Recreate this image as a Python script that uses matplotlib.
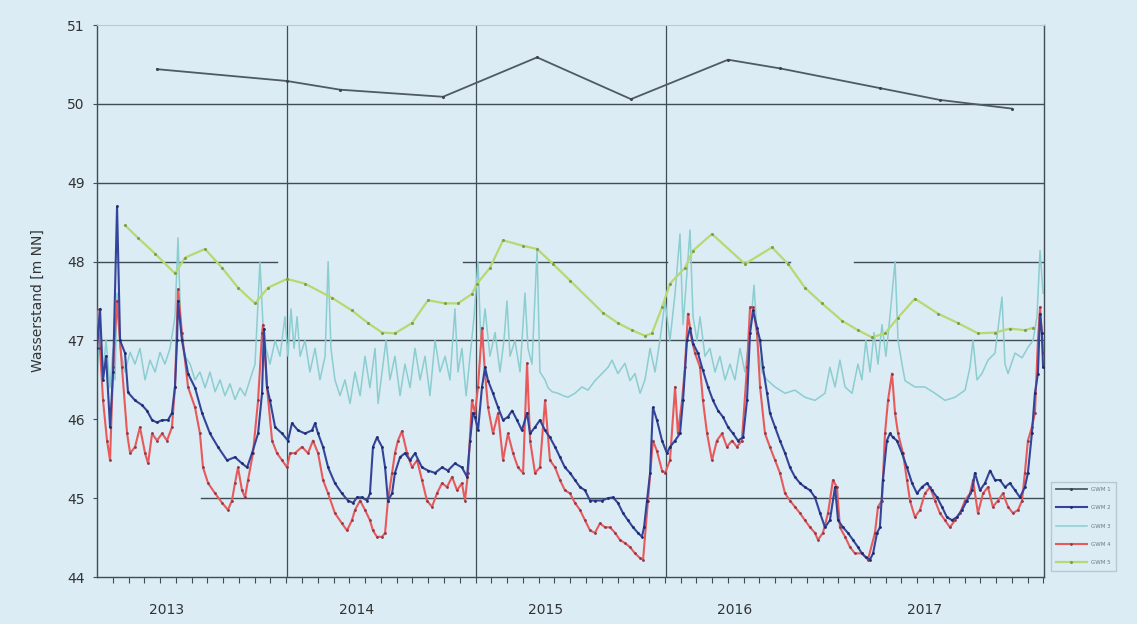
import numpy as np
import matplotlib.pyplot as plt

# groundwater levels [m NN], time as decimal year
gray_pts = [
    (2012.947, 50.44), (2013.634, 50.29), (2013.914, 50.18), (2014.458, 50.09),
    (2014.955, 50.59), (2015.451, 50.06), (2015.964, 50.56), (2016.238, 50.45),
    (2016.766, 50.20), (2017.083, 50.05), (2017.464, 49.94),
]

green_pts = [
    (2012.778, 48.46), (2012.847, 48.30), (2012.937, 48.10), (2013.042, 47.85),
    (2013.095, 48.05), (2013.201, 48.16), (2013.291, 47.92), (2013.375, 47.67),
    (2013.465, 47.47), (2013.534, 47.67), (2013.634, 47.78), (2013.729, 47.72),
    (2013.872, 47.54), (2013.977, 47.38), (2014.062, 47.22), (2014.136, 47.10),
    (2014.204, 47.09), (2014.294, 47.22), (2014.379, 47.51), (2014.469, 47.47),
    (2014.537, 47.47), (2014.611, 47.59), (2014.638, 47.72), (2014.706, 47.92),
    (2014.775, 48.27), (2014.881, 48.20), (2014.955, 48.16), (2015.039, 47.97),
    (2015.129, 47.76), (2015.303, 47.35), (2015.382, 47.22), (2015.456, 47.13),
    (2015.525, 47.06), (2015.562, 47.09), (2015.615, 47.42), (2015.657, 47.72),
    (2015.736, 47.92), (2015.779, 48.14), (2015.879, 48.35), (2016.053, 47.97),
    (2016.196, 48.18), (2016.281, 47.97), (2016.370, 47.67), (2016.460, 47.47),
    (2016.566, 47.25), (2016.650, 47.13), (2016.724, 47.04), (2016.793, 47.09),
    (2016.862, 47.29), (2016.951, 47.53), (2017.073, 47.34), (2017.179, 47.22),
    (2017.284, 47.09), (2017.374, 47.10), (2017.453, 47.15), (2017.532, 47.13),
    (2017.575, 47.16),
]

teal_pts = [
    (2012.630, 46.5), (2012.646, 47.2), (2012.662, 46.6), (2012.678, 47.0), (2012.699, 46.4),
    (2012.715, 46.9), (2012.725, 46.5), (2012.736, 47.6), (2012.752, 46.9), (2012.778, 46.6),
    (2012.805, 46.85), (2012.831, 46.7), (2012.857, 46.9), (2012.884, 46.5), (2012.910, 46.75),
    (2012.937, 46.6), (2012.963, 46.85), (2012.989, 46.7), (2013.016, 46.9), (2013.042, 47.3),
    (2013.058, 48.3), (2013.074, 47.1), (2013.095, 46.8), (2013.122, 46.7), (2013.148, 46.5),
    (2013.174, 46.6), (2013.201, 46.4), (2013.227, 46.6), (2013.254, 46.35), (2013.280, 46.5),
    (2013.306, 46.3), (2013.333, 46.45), (2013.359, 46.25), (2013.386, 46.4), (2013.412, 46.3),
    (2013.438, 46.5), (2013.465, 46.7), (2013.491, 48.0), (2013.507, 47.2), (2013.523, 46.9),
    (2013.544, 46.7), (2013.571, 47.0), (2013.597, 46.8), (2013.623, 47.3), (2013.639, 46.8),
    (2013.655, 47.4), (2013.671, 46.9), (2013.687, 47.3), (2013.703, 46.8), (2013.729, 47.0),
    (2013.755, 46.6), (2013.782, 46.9), (2013.808, 46.5), (2013.835, 46.8), (2013.851, 48.0),
    (2013.866, 46.9), (2013.887, 46.5), (2013.914, 46.3), (2013.940, 46.5), (2013.967, 46.2),
    (2013.993, 46.6), (2014.020, 46.3), (2014.046, 46.8), (2014.072, 46.4), (2014.099, 46.9),
    (2014.115, 46.2), (2014.136, 46.6), (2014.157, 47.0), (2014.178, 46.5), (2014.204, 46.8),
    (2014.231, 46.3), (2014.257, 46.7), (2014.284, 46.4), (2014.310, 46.9), (2014.337, 46.5),
    (2014.363, 46.8), (2014.389, 46.3), (2014.416, 47.0), (2014.442, 46.6), (2014.469, 46.8),
    (2014.495, 46.5), (2014.521, 47.4), (2014.537, 46.6), (2014.558, 46.9), (2014.580, 46.3),
    (2014.601, 46.8), (2014.622, 47.3), (2014.643, 48.0), (2014.659, 46.9), (2014.680, 47.4),
    (2014.706, 46.8), (2014.733, 47.1), (2014.759, 46.6), (2014.780, 47.0), (2014.796, 47.5),
    (2014.812, 46.8), (2014.838, 47.0), (2014.865, 46.6), (2014.891, 47.6), (2014.907, 46.9),
    (2014.928, 46.7), (2014.955, 48.15), (2014.970, 46.6), (2014.997, 46.5), (2015.013, 46.4),
    (2015.034, 46.35), (2015.066, 46.33), (2015.092, 46.3), (2015.118, 46.28), (2015.155, 46.33),
    (2015.192, 46.41), (2015.224, 46.37), (2015.261, 46.49), (2015.298, 46.58), (2015.330, 46.66),
    (2015.351, 46.75), (2015.382, 46.58), (2015.419, 46.71), (2015.446, 46.49), (2015.472, 46.58),
    (2015.499, 46.33), (2015.525, 46.5), (2015.552, 46.9), (2015.578, 46.6), (2015.604, 47.0),
    (2015.631, 47.5), (2015.657, 47.0), (2015.684, 47.6), (2015.710, 48.35), (2015.726, 47.2),
    (2015.742, 47.7), (2015.763, 48.4), (2015.779, 47.3), (2015.800, 47.0), (2015.816, 47.3),
    (2015.842, 46.8), (2015.868, 46.9), (2015.895, 46.6), (2015.921, 46.8), (2015.948, 46.5),
    (2015.974, 46.7), (2016.000, 46.5), (2016.027, 46.9), (2016.053, 46.6), (2016.080, 47.1),
    (2016.101, 47.7), (2016.122, 46.9), (2016.143, 46.6), (2016.170, 46.5), (2016.212, 46.41),
    (2016.265, 46.33), (2016.317, 46.37), (2016.370, 46.28), (2016.423, 46.24), (2016.476, 46.33),
    (2016.502, 46.66), (2016.529, 46.41), (2016.555, 46.75), (2016.582, 46.41), (2016.619, 46.33),
    (2016.650, 46.7), (2016.671, 46.5), (2016.692, 47.0), (2016.714, 46.6), (2016.735, 47.1),
    (2016.756, 46.7), (2016.777, 47.2), (2016.798, 46.8), (2016.819, 47.3), (2016.846, 48.0),
    (2016.862, 47.0), (2016.883, 46.7), (2016.899, 46.49), (2016.951, 46.41), (2017.004, 46.41),
    (2017.057, 46.33), (2017.110, 46.24), (2017.163, 46.28), (2017.216, 46.37), (2017.242, 46.66),
    (2017.258, 47.0), (2017.279, 46.5), (2017.305, 46.58), (2017.337, 46.75), (2017.374, 46.84),
    (2017.411, 47.55), (2017.427, 46.7), (2017.443, 46.58), (2017.480, 46.84), (2017.517, 46.78),
    (2017.548, 46.91), (2017.575, 47.0), (2017.596, 47.3), (2017.612, 48.14), (2017.628, 47.6),
]

blue_pts = [
    (2012.630, 46.9), (2012.646, 47.4), (2012.662, 46.5), (2012.678, 46.8), (2012.699, 45.9),
    (2012.715, 46.6), (2012.736, 48.7), (2012.752, 47.0), (2012.778, 46.84), (2012.794, 46.34),
    (2012.831, 46.24), (2012.868, 46.18), (2012.894, 46.11), (2012.921, 45.99), (2012.947, 45.96),
    (2012.974, 45.99), (2013.005, 45.99), (2013.026, 46.08), (2013.042, 46.41), (2013.053, 47.0),
    (2013.058, 47.5), (2013.079, 47.0), (2013.111, 46.58), (2013.148, 46.4), (2013.185, 46.08),
    (2013.227, 45.82), (2013.269, 45.65), (2013.317, 45.48), (2013.359, 45.52), (2013.396, 45.44),
    (2013.423, 45.39), (2013.449, 45.57), (2013.481, 45.82), (2013.502, 46.33), (2013.512, 47.15),
    (2013.528, 46.41), (2013.544, 46.24), (2013.571, 45.9), (2013.608, 45.82), (2013.639, 45.73),
    (2013.660, 45.95), (2013.692, 45.86), (2013.729, 45.82), (2013.766, 45.86), (2013.782, 45.95),
    (2013.798, 45.82), (2013.824, 45.65), (2013.851, 45.39), (2013.887, 45.19), (2013.924, 45.06),
    (2013.956, 44.97), (2013.983, 44.94), (2014.004, 45.01), (2014.030, 45.01), (2014.057, 44.97),
    (2014.072, 45.06), (2014.088, 45.65), (2014.109, 45.77), (2014.136, 45.65), (2014.152, 45.39),
    (2014.167, 44.97), (2014.189, 45.06), (2014.204, 45.32), (2014.231, 45.52), (2014.257, 45.57),
    (2014.284, 45.48), (2014.310, 45.57), (2014.347, 45.39), (2014.379, 45.35), (2014.416, 45.32),
    (2014.453, 45.39), (2014.484, 45.35), (2014.521, 45.44), (2014.558, 45.39), (2014.585, 45.27),
    (2014.601, 45.73), (2014.616, 46.08), (2014.627, 46.03), (2014.643, 45.86), (2014.664, 46.41),
    (2014.680, 46.66), (2014.696, 46.49), (2014.722, 46.33), (2014.749, 46.15), (2014.775, 45.99),
    (2014.801, 46.03), (2014.823, 46.11), (2014.849, 45.99), (2014.875, 45.86), (2014.902, 46.08),
    (2014.918, 45.82), (2014.944, 45.9), (2014.970, 45.99), (2014.997, 45.86), (2015.023, 45.77),
    (2015.050, 45.65), (2015.076, 45.52), (2015.102, 45.39), (2015.129, 45.32), (2015.155, 45.23),
    (2015.182, 45.14), (2015.208, 45.1), (2015.235, 44.97), (2015.261, 44.97), (2015.298, 44.97),
    (2015.330, 45.0), (2015.356, 45.01), (2015.382, 44.94), (2015.409, 44.81), (2015.435, 44.72),
    (2015.462, 44.63), (2015.488, 44.56), (2015.509, 44.51), (2015.520, 44.63), (2015.536, 44.97),
    (2015.552, 45.32), (2015.567, 46.15), (2015.588, 45.99), (2015.615, 45.73), (2015.641, 45.57),
    (2015.657, 45.65), (2015.684, 45.73), (2015.710, 45.82), (2015.726, 46.24), (2015.747, 47.0),
    (2015.763, 47.16), (2015.779, 46.96), (2015.805, 46.84), (2015.831, 46.62), (2015.858, 46.41),
    (2015.884, 46.24), (2015.911, 46.11), (2015.937, 46.03), (2015.964, 45.9), (2015.990, 45.82),
    (2016.016, 45.73), (2016.043, 45.77), (2016.064, 46.24), (2016.080, 47.09), (2016.096, 47.38),
    (2016.117, 47.16), (2016.133, 47.0), (2016.148, 46.66), (2016.170, 46.33), (2016.185, 46.08),
    (2016.212, 45.9), (2016.238, 45.73), (2016.265, 45.57), (2016.291, 45.39), (2016.317, 45.27),
    (2016.344, 45.19), (2016.370, 45.14), (2016.397, 45.1), (2016.423, 45.01), (2016.450, 44.81),
    (2016.476, 44.63), (2016.502, 44.72), (2016.529, 45.14), (2016.545, 44.72), (2016.571, 44.63),
    (2016.597, 44.56), (2016.624, 44.47), (2016.650, 44.38), (2016.671, 44.3), (2016.692, 44.25),
    (2016.714, 44.22), (2016.730, 44.3), (2016.751, 44.56), (2016.766, 44.63), (2016.782, 45.23),
    (2016.803, 45.73), (2016.819, 45.82), (2016.835, 45.77), (2016.856, 45.73), (2016.883, 45.57),
    (2016.909, 45.39), (2016.936, 45.19), (2016.962, 45.06), (2016.988, 45.14), (2017.015, 45.19),
    (2017.041, 45.1), (2017.068, 45.01), (2017.094, 44.89), (2017.120, 44.76), (2017.147, 44.72),
    (2017.173, 44.76), (2017.200, 44.85), (2017.226, 44.97), (2017.253, 45.1), (2017.268, 45.32),
    (2017.295, 45.1), (2017.321, 45.19), (2017.348, 45.35), (2017.374, 45.23), (2017.400, 45.23),
    (2017.427, 45.14), (2017.453, 45.19), (2017.480, 45.1), (2017.506, 45.01), (2017.532, 45.14),
    (2017.548, 45.32), (2017.569, 45.82), (2017.585, 46.33), (2017.601, 46.58), (2017.612, 47.34),
    (2017.622, 47.09), (2017.628, 46.66),
]

red_pts = [
    (2012.630, 47.4), (2012.646, 46.9), (2012.662, 46.24), (2012.683, 45.73), (2012.699, 45.48),
    (2012.715, 46.66), (2012.736, 47.5), (2012.762, 46.66), (2012.789, 45.82), (2012.805, 45.57),
    (2012.831, 45.65), (2012.857, 45.9), (2012.884, 45.57), (2012.900, 45.44), (2012.921, 45.82),
    (2012.947, 45.73), (2012.974, 45.82), (2013.000, 45.73), (2013.026, 45.9), (2013.042, 46.41),
    (2013.058, 47.65), (2013.079, 47.09), (2013.111, 46.41), (2013.148, 46.15), (2013.174, 45.82),
    (2013.190, 45.39), (2013.217, 45.19), (2013.254, 45.06), (2013.291, 44.94), (2013.322, 44.85),
    (2013.343, 44.97), (2013.359, 45.19), (2013.375, 45.39), (2013.396, 45.1), (2013.412, 45.01),
    (2013.428, 45.23), (2013.454, 45.57), (2013.481, 46.24), (2013.502, 47.09), (2013.507, 47.2),
    (2013.528, 46.41), (2013.555, 45.73), (2013.581, 45.57), (2013.608, 45.48), (2013.634, 45.39),
    (2013.650, 45.57), (2013.676, 45.57), (2013.713, 45.65), (2013.745, 45.57), (2013.771, 45.73),
    (2013.798, 45.57), (2013.824, 45.23), (2013.851, 45.06), (2013.887, 44.81), (2013.924, 44.68),
    (2013.951, 44.59), (2013.977, 44.72), (2013.993, 44.85), (2014.020, 44.97), (2014.046, 44.85),
    (2014.072, 44.72), (2014.088, 44.59), (2014.109, 44.51), (2014.136, 44.51), (2014.152, 44.56),
    (2014.167, 44.97), (2014.189, 45.32), (2014.204, 45.57), (2014.220, 45.73), (2014.241, 45.85),
    (2014.268, 45.57), (2014.294, 45.39), (2014.321, 45.48), (2014.347, 45.23), (2014.373, 44.97),
    (2014.400, 44.89), (2014.426, 45.06), (2014.453, 45.19), (2014.479, 45.14), (2014.506, 45.27),
    (2014.532, 45.1), (2014.558, 45.19), (2014.574, 44.97), (2014.590, 45.32), (2014.611, 46.24),
    (2014.627, 46.08), (2014.643, 46.41), (2014.664, 47.16), (2014.680, 46.58), (2014.696, 46.15),
    (2014.722, 45.82), (2014.749, 46.08), (2014.775, 45.48), (2014.801, 45.82), (2014.828, 45.57),
    (2014.854, 45.39), (2014.881, 45.32), (2014.902, 46.71), (2014.918, 45.73), (2014.944, 45.32),
    (2014.970, 45.39), (2014.997, 46.24), (2015.023, 45.48), (2015.050, 45.39), (2015.076, 45.23),
    (2015.102, 45.1), (2015.129, 45.06), (2015.155, 44.94), (2015.182, 44.85), (2015.208, 44.72),
    (2015.235, 44.59), (2015.261, 44.56), (2015.287, 44.68), (2015.314, 44.63), (2015.340, 44.63),
    (2015.367, 44.56), (2015.393, 44.47), (2015.419, 44.43), (2015.446, 44.38), (2015.472, 44.3),
    (2015.499, 44.24), (2015.515, 44.22), (2015.541, 44.97), (2015.567, 45.73), (2015.588, 45.6),
    (2015.615, 45.35), (2015.631, 45.32), (2015.657, 45.48), (2015.684, 46.41), (2015.699, 45.82),
    (2015.721, 46.24), (2015.736, 46.66), (2015.752, 47.34), (2015.773, 47.0), (2015.789, 46.84),
    (2015.816, 46.66), (2015.831, 46.24), (2015.853, 45.82), (2015.879, 45.48), (2015.905, 45.73),
    (2015.932, 45.82), (2015.958, 45.65), (2015.985, 45.73), (2016.011, 45.65), (2016.037, 45.73),
    (2016.064, 46.66), (2016.080, 47.42), (2016.096, 47.42), (2016.117, 47.09), (2016.133, 46.41),
    (2016.159, 45.82), (2016.185, 45.65), (2016.212, 45.48), (2016.238, 45.32), (2016.265, 45.06),
    (2016.291, 44.97), (2016.317, 44.89), (2016.344, 44.81), (2016.370, 44.72), (2016.397, 44.63),
    (2016.423, 44.56), (2016.439, 44.47), (2016.465, 44.56), (2016.492, 44.81), (2016.518, 45.23),
    (2016.539, 45.14), (2016.555, 44.63), (2016.582, 44.51), (2016.608, 44.38), (2016.634, 44.3),
    (2016.671, 44.3), (2016.703, 44.22), (2016.740, 44.56), (2016.756, 44.89), (2016.777, 44.97),
    (2016.793, 45.82), (2016.809, 46.24), (2016.830, 46.58), (2016.846, 46.08), (2016.862, 45.82),
    (2016.888, 45.57), (2016.909, 45.23), (2016.925, 44.97), (2016.951, 44.76), (2016.978, 44.85),
    (2017.004, 45.06), (2017.031, 45.14), (2017.057, 44.97), (2017.083, 44.81), (2017.110, 44.72),
    (2017.136, 44.63), (2017.163, 44.72), (2017.189, 44.81), (2017.216, 44.97), (2017.242, 45.06),
    (2017.258, 45.23), (2017.284, 44.81), (2017.311, 45.06), (2017.337, 45.14), (2017.363, 44.89),
    (2017.390, 44.97), (2017.416, 45.06), (2017.443, 44.89), (2017.469, 44.81), (2017.496, 44.85),
    (2017.517, 44.97), (2017.532, 45.32), (2017.548, 45.73), (2017.569, 45.9), (2017.585, 46.08),
    (2017.601, 47.0), (2017.612, 47.42), (2017.622, 47.09), (2017.628, 46.84),
]

years = [2013, 2014, 2015, 2016, 2017]
year_labels = ["2013", "2014", "2015", "2016", "2017"]
y_ticks = [44, 45, 46, 47, 48, 49, 50, 51]
series_names = ["GWM 1", "GWM 2", "GWM 3", "GWM 4", "GWM 5"]

BG = "#dbecf5"
GRID = "#3f4d54"


def main():
    fig = plt.figure(figsize=(11.37, 6.24), dpi=100, facecolor=BG)
    ax = fig.add_axes([0.0853, 0.0753, 0.8329, 0.8846], facecolor=BG)

    x0, x1 = 2012.630, 2017.633
    ax.set_xlim(x0, x1)
    ax.set_ylim(44, 51)

    # horizontal grid, partly interrupted like the printed chart
    for y, a, b in [(45, 0.11, 1), (47, 0, 1), (49, 0, 1), (50, 0, 1),
                    (48, 0, 0.19), (48, 0.386, 0.602), (48, 0.626, 0.732), (48, 0.799, 1)]:
        ax.axhline(y, xmin=a, xmax=b, color=GRID, lw=1.0, zorder=1)
    for yr in [2013.634, 2014.632, 2015.636]:
        ax.axvline(yr, color=GRID, lw=0.9, zorder=1)

    teal = np.array(teal_pts)
    green = np.array(green_pts)
    red = np.array(red_pts)
    blue = np.array(blue_pts)
    gray = np.array(gray_pts)

    l_teal, = ax.plot(teal[:, 0], teal[:, 1], color="#8ccdd0", lw=1.1, zorder=2)
    l_green, = ax.plot(green[:, 0], green[:, 1], color="#b8d870", lw=1.6,
                       marker="o", ms=2.2, mfc="#7e9e4c", mec="none", zorder=3)
    l_red, = ax.plot(red[:, 0], red[:, 1], color="#e8595a", lw=1.5,
                     marker="o", ms=2.0, mfc="#8a3a50", mec="none", zorder=4)
    l_blue, = ax.plot(blue[:, 0], blue[:, 1], color="#34449a", lw=1.5,
                      marker="o", ms=2.0, mfc="#1f2a66", mec="none", zorder=5)
    l_gray, = ax.plot(gray[:, 0], gray[:, 1], color="#4f5a62", lw=1.3,
                      marker="o", ms=2.2, mfc="#3a444a", mec="none", zorder=5)

    # axes and ticks
    ax.set_yticks(y_ticks)
    ax.tick_params(axis="y", length=3, color=GRID, labelsize=10, labelcolor="#333333", pad=6)
    ax.set_xticks(years)
    ax.set_xticklabels(year_labels)
    ax.tick_params(axis="x", length=0, labelsize=10, labelcolor="#333333", pad=19)
    ax.set_xticks(np.arange(x0 + 1 / 12, x1, 1 / 12), minor=True)
    ax.tick_params(axis="x", which="minor", length=4, width=0.8, color=GRID, direction="out")

    for side in ["left", "bottom", "right"]:
        ax.spines[side].set_color(GRID)
        ax.spines[side].set_linewidth(1.0)
    ax.spines["top"].set_color("#b8c8d0")
    ax.spines["top"].set_linewidth(0.8)

    ax.set_ylabel("Wasserstand [m NN]", fontsize=10, color="#333333", labelpad=16)

    leg = ax.legend([l_gray, l_blue, l_teal, l_red, l_green], series_names,
                    loc="upper left", bbox_to_anchor=(1.004, 0.178), fontsize=4,
                    frameon=True, facecolor=BG, edgecolor="#b0c0c8", fancybox=False,
                    handlelength=5.5, labelspacing=2.4, borderpad=1.0)
    for t in leg.get_texts():
        t.set_color("#707880")

    fig.savefig("out.png", dpi=100, facecolor=BG)


if __name__ == "__main__":
    main()
